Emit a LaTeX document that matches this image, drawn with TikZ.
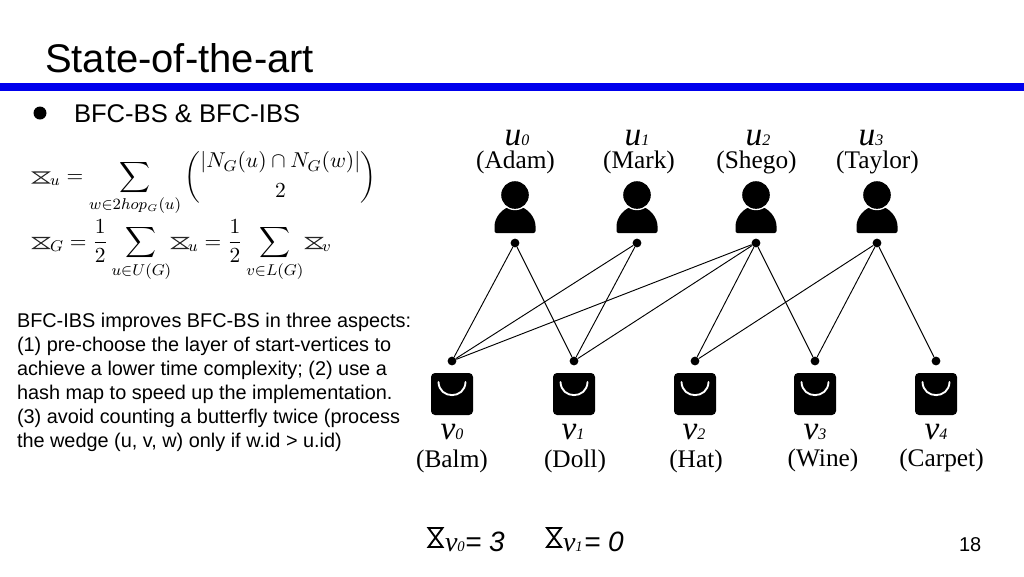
\documentclass[tikz,border=0pt]{standalone}
\usepackage{fontspec}
\usepackage{amsmath}
\usepackage{graphicx}
\setmainfont{Liberation Sans}
\newfontfamily\tms{Liberation Serif}
\newcommand{\fscale}[1]{\scalebox{1.47}{#1}}
\begin{document}
\begin{tikzpicture}[x=0.75pt,y=-0.75pt,
  lay/.style={inner sep=0pt,outer sep=0pt,anchor=base},
  dotn/.style={circle,fill=black,inner sep=0pt,minimum size=6.6pt},
  link/.style={draw=black,line width=0.7pt},
  namel/.style={lay,font=\tms\fontsize{19}{21}\selectfont},
  varl/.style={lay,font=\tms\itshape\fontsize{25}{27}\selectfont},
  body/.style={lay,anchor=north west,align=left,font=\fontsize{14.9}{18}\selectfont},
  formula/.style={lay,anchor=base west,font=\fontsize{11}{13}\selectfont},
  person/.pic={
    \fill[black,rounded corners=1.5pt] (-20.5,-10) -- (-20.5,-15) .. controls (-20.5,-25) and (-13,-36) .. (0,-37) .. controls (13,-36) and (20.5,-25) .. (20.5,-15) -- (20.5,-10) -- cycle;
    \fill[white] (0,-48) circle (15.2);
    \fill[black] (0,-48) circle (13.8);
  },
  bag/.pic={
    \fill[black,rounded corners=3pt] (-21,12) rectangle (21,54);
    \draw[white,line width=1.4pt,line cap=round] (-13.5,21) .. controls (-13,38.5) and (13,38.5) .. (13.5,21);
  },
  btf/.pic={
    \draw[black!85,line width=0.8pt,line join=miter] (-8,-5.5) -- (8,-5.5) -- (-8,5.5) -- (8,5.5) -- cycle;
  },
  btfbig/.pic={
    \draw[black,line width=1.4pt,line join=miter] (-7,-9.5) -- (7,-9.5) -- (-7,9.5) -- (7,9.5) -- cycle;
  }]
\useasboundingbox (0,0) rectangle (1024,576);
\fill[white] (0,0) rectangle (1024,576);
\fill[blue!93!black] (0,83) rectangle (1024,91);
\node[lay,anchor=base west,font=\fontsize{30}{32}\selectfont] (title) at (45,72) {State-of-the-art};
\fill[black] (40,113) circle (6.5);
\node[lay,anchor=base west,font=\fontsize{19.2}{21}\selectfont] (head) at (74,122) {BFC-BS \& BFC-IBS};
\node[body] (desc) at (17,313) {BFC-IBS improves BFC-BS in three aspects:\\(1) pre-choose the layer of start-vertices to\\achieve a lower time complexity; (2) use a\\hash map to speed up the implementation.\\(3) avoid counting a butterfly twice (process\\the wedge (u, v, w) only if w.id > u.id)};
\node[lay,anchor=base west,font=\fontsize{15}{17}\selectfont] (page) at (959,551) {18};

% formulas
\pic at (41,177.5) {btf};
\node[formula] (f1) at (50,182.5) {\fscale{$_u = \displaystyle\sum_{w\in 2hop_G(u)} \binom{|N_G(u)\cap N_G(w)|}{2}$}};
\pic at (41,243) {btf};
\node[formula] (f2a) at (50,248) {\fscale{$_G = \dfrac{1}{2}\displaystyle\sum_{u\in U(G)}$}};
\pic at (180,243) {btf};
\node[formula] (f2b) at (188,248) {\fscale{$_u = \dfrac{1}{2}\displaystyle\sum_{v\in L(G)}$}};
\pic at (314,243) {btf};
\node[formula] (f2c) at (322,248) {\fscale{$_v$}};

% users
\foreach \n/\x in {0/515,1/637,2/756,3/877}{
  \pic at (\x,243) {person};
  \node[dotn] (ud\n) at (\x,243) {};
}
\node[varl] (u0) at (517,145) {\textit{u}{\fontsize{12}{12}\selectfont 0}};
\node[varl] (u1) at (637,145) {\textit{u}{\fontsize{12}{12}\selectfont 1}};
\node[varl] (u2) at (758,145) {\textit{u}{\fontsize{12}{12}\selectfont 2}};
\node[varl] (u3) at (871,145) {\textit{u}{\fontsize{12}{12}\selectfont 3}};
\node[namel] (nu0) at (515.5,168) {(Adam)};
\node[namel] (nu1) at (639,168) {(Mark)};
\node[namel] (nu2) at (756.5,168) {(Shego)};
\node[namel] (nu3) at (877.5,168) {(Taylor)};

% items
\foreach \n/\x in {0/452,1/574,2/695,3/815,4/936}{
  \pic at (\x,361) {bag};
  \node[dotn] (vd\n) at (\x,361) {};
}
\node[varl] (v0) at (452,439) {\textit{v}{\fontsize{12}{12}\selectfont 0}};
\node[varl] (v1) at (573,439) {\textit{v}{\fontsize{12}{12}\selectfont 1}};
\node[varl] (v2) at (694,439) {\textit{v}{\fontsize{12}{12}\selectfont 2}};
\node[varl] (v3) at (815,439) {\textit{v}{\fontsize{12}{12}\selectfont 3}};
\node[varl] (v4) at (936,439) {\textit{v}{\fontsize{12}{12}\selectfont 4}};
\node[namel] (nv0) at (452,467) {(Balm)};
\node[namel] (nv1) at (575,467) {(Doll)};
\node[namel] (nv2) at (696,467) {(Hat)};
\node[namel] (nv3) at (823,466) {(Wine)};
\node[namel] (nv4) at (941.5,466) {(Carpet)};

% edges
\foreach \a/\b in {0/0,0/1,1/0,1/1,2/0,2/1,2/2,2/3,3/2,3/3,3/4}{
  \draw[link] (ud\a) -- (vd\b);
}

% bottom
\pic at (435.5,537.5) {btfbig};
\node[lay,anchor=base west,font=\tms\itshape\fontsize{21}{23}\selectfont] (bv0) at (445,551) {v\fontsize{11}{11}\selectfont 0};
\node[lay,anchor=base west,font=\itshape\fontsize{21}{23}\selectfont] (beq0) at (465,551) {= 3};
\pic at (554,537.5) {btfbig};
\node[lay,anchor=base west,font=\tms\itshape\fontsize{21}{23}\selectfont] (bv1) at (563,551) {v\fontsize{11}{11}\selectfont 1};
\node[lay,anchor=base west,font=\itshape\fontsize{21}{23}\selectfont] (beq1) at (584,551) {= 0};
\end{tikzpicture}
\end{document}
